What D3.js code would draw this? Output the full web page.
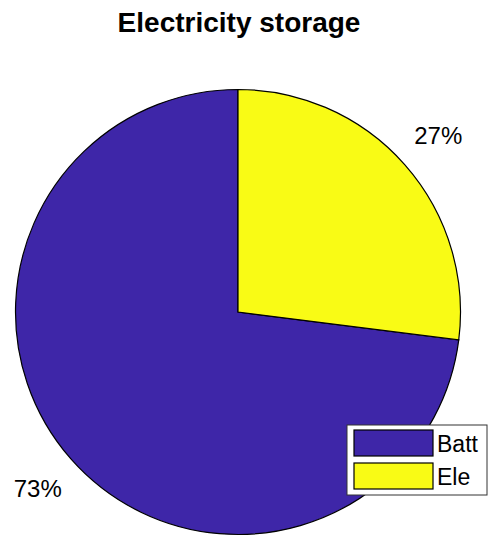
<!DOCTYPE html>
<html>
<head>
<meta charset="utf-8">
<script src="https://cdn.jsdelivr.net/npm/d3@7"></script>
<style>
  body { margin: 0; background: #fff; }
  svg { display: block; font-family: "Liberation Sans", Arial, sans-serif; }
</style>
</head>
<body>
<svg width="497" height="550"></svg>
<script>
const categories = ["Batt", "Ele"];
const values = [73, 27];
const colors = ["#3e26a8", "#f9fb15"];

const svg = d3.select("svg");
const cx = 238, cy = 312, r = 222.5;

// title
svg.append("text")
  .attr("x", 239)
  .attr("y", 32)
  .attr("text-anchor", "middle")
  .style("font-size", "28px")
  .style("font-weight", "bold")
  .text("Electricity storage");

// matlab draws counterclockwise starting from the top
const pie = d3.pie().sort(null).startAngle(0).endAngle(-2 * Math.PI);
const pieData = pie(values);
const arc = d3.arc().innerRadius(0).outerRadius(r);
const labelArc = d3.arc().innerRadius(r * 1.2).outerRadius(r * 1.2);
const total = d3.sum(values);

const g = svg.append("g").attr("transform", `translate(${cx}, ${cy})`);

g.selectAll("path")
  .data(pieData)
  .enter()
  .append("path")
  .attr("d", arc)
  .attr("fill", (d, i) => colors[i])
  .attr("stroke", "#000")
  .attr("stroke-width", 1.2);

g.selectAll("text")
  .data(pieData)
  .enter()
  .append("text")
  .attr("transform", (d) => `translate(${labelArc.centroid(d)})`)
  .attr("text-anchor", "middle")
  .attr("dominant-baseline", "central")
  .style("font-size", "24px")
  .text((d) => Math.round((d.data / total) * 100) + "%");

// legend
const legend = svg.append("g").attr("transform", "translate(347, 425)");
legend.append("rect")
  .attr("width", 140)
  .attr("height", 70)
  .attr("fill", "#fff")
  .attr("stroke", "#333")
  .attr("stroke-width", 1);

const item = legend.selectAll("g.item")
  .data(categories)
  .enter()
  .append("g")
  .attr("class", "item")
  .attr("transform", (d, i) => `translate(7, ${5 + i * 33})`);

item.append("rect")
  .attr("width", 79)
  .attr("height", 26)
  .attr("fill", (d, i) => colors[i])
  .attr("stroke", "#000")
  .attr("stroke-width", 1.2);

item.append("text")
  .attr("x", 83)
  .attr("y", 14)
  .attr("dominant-baseline", "central")
  .style("font-size", "23px")
  .text((d) => d);
</script>
</body>
</html>
